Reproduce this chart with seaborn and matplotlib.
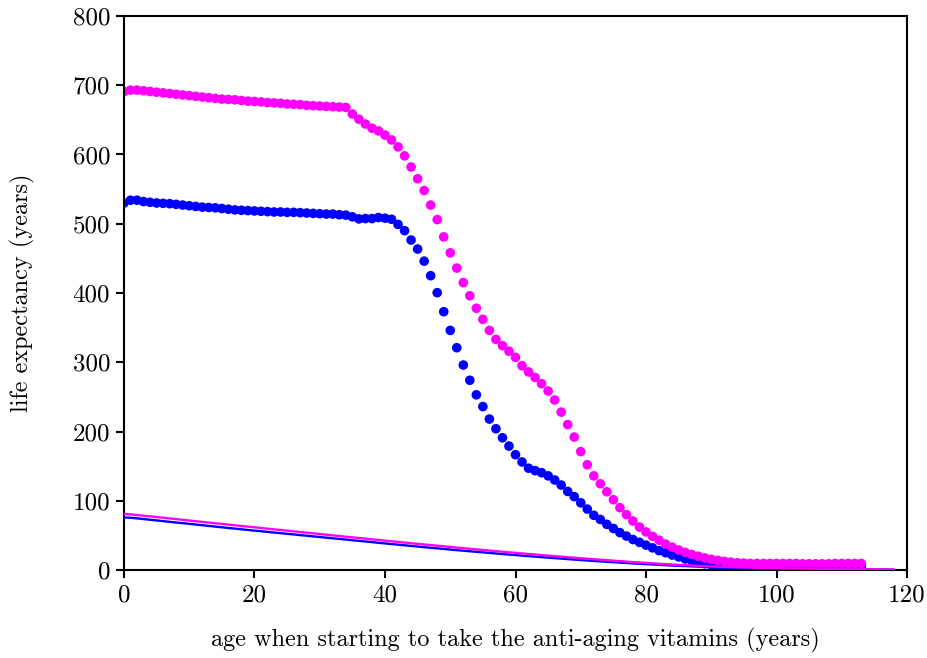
import numpy as np
import pandas as pd
import matplotlib
matplotlib.use("Agg")
import matplotlib.pyplot as plt
import seaborn as sns

# Age at which the vitamin regimen starts (one dot per year)
start_age = list(range(0, 114))

# Life expectancy with vitamins, women (magenta) and men (blue)
women_vitamins = [
    691, 693, 693, 692, 691, 690, 689, 688, 687, 686,
    685, 684, 683, 682, 681, 680, 679.5, 679, 678, 677,
    676.5, 676, 675, 674.5, 674, 673, 672.5, 672, 671, 670.5,
    670, 669.5, 669, 668.5, 668, 658.5, 651, 644, 638, 634,
    628, 621, 611, 598, 582, 565, 548, 527, 506, 481,
    458, 436, 415, 396, 378, 362, 346, 333, 324, 316,
    307, 295, 286, 278, 269, 258.5, 245.5, 228, 210, 192,
    171, 152, 136, 124.5, 113, 101.5, 90, 80, 70.7, 62,
    55, 48.6, 43, 37.5, 33, 29, 25.5, 22.5, 20, 17.5,
    15.5, 14, 12.5, 11.5, 10.5, 10, 9.5, 9.5, 9.5, 9.5,
    9.5, 9.5, 9.5, 9.5, 9, 9, 9, 9, 9, 9.5,
    9.5, 9.5, 9.5, 9.5,
]
men_vitamins = [
    530, 534, 534, 532, 531, 530, 529.5, 529, 528, 527,
    526, 525, 524, 523.5, 523, 522, 521, 520, 519.5, 519,
    518.5, 518, 517.5, 517, 517, 516.5, 516.5, 516, 515.5, 515,
    514.5, 514, 514, 513, 512.5, 510, 507, 507.5, 507.5, 509,
    508, 506.5, 499, 490, 476.5, 463.5, 446, 425, 400.5, 373,
    346, 321, 296, 274, 253, 236, 218, 204, 191, 179,
    166.5, 156, 147, 143.5, 140.5, 136, 130, 122.7, 113.5, 106,
    97, 88, 79, 73, 66, 60, 54, 49, 44, 40,
    36, 32, 28, 25, 21.7, 19, 16, 13.5, 11, 9,
    7.5, 6.5, 5.5, 5, 4.5, 4.5, 4.5, 4.5, 4.5, 4.5,
    4.5, 4.5, 4.5, 4.5, 4.5, 4.5, 4.5, 4.5, 4.5, 4.5,
    4.5, 4.5, 4.5, 4.5,
]

# Ordinary life expectancy without vitamins (period life table)
table_age = list(range(0, 119))
women_plain = [
    80.9, 80.4, 79.4, 78.4, 77.5, 76.5, 75.5, 74.5, 73.5, 72.5,
    71.5, 70.5, 69.5, 68.5, 67.5, 66.6, 65.6, 64.6, 63.6, 62.6,
    61.7, 60.7, 59.7, 58.7, 57.8, 56.8, 55.8, 54.9, 53.9, 52.9,
    52.0, 51.0, 50.0, 49.1, 48.1, 47.2, 46.2, 45.3, 44.3, 43.4,
    42.4, 41.5, 40.6, 39.6, 38.7, 37.8, 36.9, 36.0, 35.1, 34.2,
    33.3, 32.4, 31.5, 30.7, 29.8, 29.0, 28.1, 27.3, 26.4, 25.6,
    24.8, 24.0, 23.2, 22.4, 21.6, 20.8, 20.0, 19.3, 18.5, 17.8,
    17.0, 16.3, 15.6, 14.9, 14.2, 13.5, 12.8, 12.2, 11.5, 10.9,
    10.3, 9.7, 9.1, 8.6, 8.0, 7.5, 7.0, 6.5, 6.1, 5.7,
    5.3, 4.9, 4.6, 4.3, 4.0, 3.7, 3.5, 3.3, 3.1, 2.9,
    2.7, 2.6, 2.4, 2.3, 2.2, 2.0, 1.9, 1.8, 1.7, 1.6,
    1.5, 1.4, 1.3, 1.2, 1.1, 1.0, 0.9, 0.8, 0.7,
]
men_plain = [
    76.0, 75.5, 74.6, 73.6, 72.6, 71.6, 70.6, 69.6, 68.6, 67.7,
    66.7, 65.7, 64.7, 63.7, 62.7, 61.7, 60.7, 59.8, 58.8, 57.9,
    56.9, 56.0, 55.1, 54.1, 53.2, 52.3, 51.4, 50.4, 49.5, 48.6,
    47.7, 46.7, 45.8, 44.9, 44.0, 43.0, 42.1, 41.2, 40.3, 39.3,
    38.4, 37.5, 36.6, 35.7, 34.8, 33.9, 33.0, 32.1, 31.3, 30.4,
    29.6, 28.7, 27.9, 27.1, 26.3, 25.5, 24.7, 23.9, 23.1, 22.3,
    21.6, 20.8, 20.1, 19.3, 18.6, 17.9, 17.2, 16.5, 15.8, 15.1,
    14.4, 13.8, 13.1, 12.5, 11.9, 11.3, 10.7, 10.1, 9.5, 9.0,
    8.5, 8.0, 7.5, 7.0, 6.5, 6.1, 5.7, 5.3, 5.0, 4.6,
    4.3, 4.0, 3.8, 3.5, 3.3, 3.1, 2.9, 2.7, 2.6, 2.4,
    2.3, 2.2, 2.1, 2.0, 1.9, 1.8, 1.7, 1.6, 1.5, 1.4,
    1.3, 1.2, 1.1, 1.0, 0.9, 0.8, 0.7, 0.6, 0.5,
]

x_ticks = [0, 20, 40, 60, 80, 100, 120]
y_ticks = [0, 100, 200, 300, 400, 500, 600, 700, 800]

sns.set_style("ticks")
plt.rcParams["font.family"] = ["cmr10", "DejaVu Serif"]
plt.rcParams["axes.formatter.use_mathtext"] = True
plt.rcParams["text.color"] = "black"
plt.rcParams["axes.labelcolor"] = "black"
plt.rcParams["xtick.color"] = "black"
plt.rcParams["ytick.color"] = "black"
plt.rcParams["axes.edgecolor"] = "black"

dots = pd.DataFrame({
    "age": start_age * 2,
    "expectancy": men_vitamins + women_vitamins,
    "group": ["men"] * len(start_age) + ["women"] * len(start_age),
})
plain = pd.DataFrame({
    "age": table_age * 2,
    "expectancy": men_plain + women_plain,
    "group": ["men"] * len(table_age) + ["women"] * len(table_age),
})
palette = {"men": "#0000ff", "women": "#ff00ff"}

fig = plt.figure(figsize=(9.28, 6.58), dpi=100)
ax = fig.add_axes([0.1336, 0.1337, 0.9774 - 0.1336, 0.9757 - 0.1337])

sns.scatterplot(data=dots, x="age", y="expectancy", hue="group", palette=palette,
                s=48, linewidth=0, alpha=1, legend=False, ax=ax, zorder=2)
sns.lineplot(data=plain, x="age", y="expectancy", hue="group", palette=palette,
             linewidth=1.7, legend=False, ax=ax, zorder=3)

ax.set_xlim(0, 120)
ax.set_ylim(0, 800)
ax.set_xticks(x_ticks)
ax.set_yticks(y_ticks)
ax.set_xticklabels([str(t) for t in x_ticks])
ax.set_yticklabels([str(t) for t in y_ticks])
ax.tick_params(axis="both", direction="out", length=6, width=1.5,
               labelsize=18, pad=4, top=False, right=False)
for spine in ax.spines.values():
    spine.set_linewidth(1.5)
    spine.set_visible(True)

ax.set_xlabel("age when starting to take the anti-aging vitamins (years)",
              fontsize=17.5, labelpad=16)
ax.set_ylabel("life expectancy (years)", fontsize=17.5, labelpad=27)

fig.savefig("out.png", dpi=100)
